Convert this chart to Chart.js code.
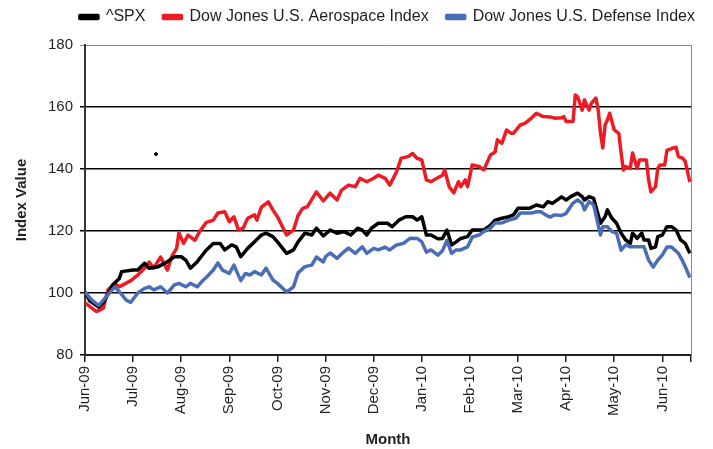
<!DOCTYPE html>
<html>
<head>
<meta charset="utf-8">
<script src="https://cdn.jsdelivr.net/npm/chart.js@4.4.1/dist/chart.umd.min.js"></script>
<style>
  html, body { margin: 0; padding: 0; background: #fff; }
</style>
</head>
<body>
<canvas id="indexChart" width="713" height="449"></canvas>
<script>
// x positions are trading-day numbers counted from 1 Jun 2009
const monthLabels = ['Jun-09', 'Jul-09', 'Aug-09', 'Sep-09', 'Oct-09', 'Nov-09', 'Dec-09',
                     'Jan-10', 'Feb-10', 'Mar-10', 'Apr-10', 'May-10', 'Jun-10'];
const monthTicks = [0, 21, 42, 63, 84, 105, 126, 147, 168, 189, 210, 231, 252, 264.5];

const spxDays = [0, 2, 6, 8, 11, 12, 15, 16, 21, 23, 26, 28, 32, 36, 39, 42, 44, 46, 49, 51,
  53, 56, 59, 61, 64, 66, 68, 71, 74, 77, 79, 82, 84, 88, 91, 93, 96, 99, 101, 104,
  107, 110, 113, 116, 119, 121, 123, 125, 128, 132, 134, 137, 140, 143, 145, 147, 149, 151, 154, 156,
  158, 160, 162, 164, 167, 169, 172, 174, 177, 179, 182, 185, 187, 189, 192, 194, 197, 200, 202, 204,
  208, 210, 212, 215, 217, 218, 220, 222, 223, 225, 227, 228, 230, 232, 234, 236, 238, 239, 241, 243,
  244, 246, 247, 249, 250, 252, 254, 256, 258, 260, 262, 264];
const spxValues = [100.4, 97.5, 95.5, 97, 101, 102.6, 104.7, 106.9, 107.4, 107.4, 109.6, 108, 108.5, 110.1, 111.7, 111.7, 110.6, 108, 110.1, 112,
  113.9, 116, 116, 113.9, 115.5, 114.9, 111.7, 114.4, 116.5, 118.7, 119.3, 118.2, 116.5, 112.8, 113.9, 116.5, 119.3, 118.7, 120.9, 118.4,
  120.3, 119.3, 119.8, 118.7, 120.9, 120.3, 118.7, 120.9, 122.5, 122.5, 121.4, 123.5, 124.6, 124.6, 123.5, 124.6, 118.7, 118.7, 117.5, 117.6,
  120.3, 115.5, 116.5, 117.6, 118.2, 120.3, 120.3, 120.3, 121.9, 123.5, 124.1, 124.6, 125.2, 127.3, 127.3, 127.3, 128.4, 127.8, 129.5, 128.9,
  131, 130, 131.1, 132.2, 131.1, 130, 131.1, 130.5, 127.8, 122.5, 124.6, 126.8, 124.1, 122.5, 119.3, 117.1, 116, 119.3, 117.6, 119.3,
  117.1, 117.1, 114.4, 114.9, 118.2, 118.7, 121.4, 121.4, 120.3, 117.1, 116, 112.8];

const aeroDays = [0, 5, 8, 10, 13, 15, 20, 23, 26, 28, 30, 33, 36, 38, 40, 41, 43, 45, 48, 50,
  53, 56, 58, 61, 63, 65, 67, 69, 71, 74, 75, 77, 80, 82, 84, 88, 91, 93, 95, 97,
  101, 104, 107, 110, 112, 115, 118, 120, 123, 126, 128, 131, 133, 136, 138, 141, 143, 145, 147, 149,
  151, 154, 156, 157, 159, 161, 163, 164, 166, 167, 169, 172, 174, 177, 179, 180, 182, 184, 186, 187,
  190, 192, 195, 197, 200, 203, 205, 208, 209, 210, 213, 214, 215, 217, 218, 220, 221, 223, 224, 225,
  226, 227, 228, 229, 231, 233, 234, 235, 236, 238, 239, 241, 242, 244, 245, 246, 247, 249, 250, 251,
  253, 254, 256, 258, 259, 261, 262, 264];
const aeroValues = [96.8, 94, 95.1, 101, 103, 102, 104, 105.8, 108, 110, 108, 111.6, 107.4, 112, 114.4, 119.4, 116, 118.7, 117, 119.8,
  122.8, 123.5, 125.8, 126.2, 123, 124.6, 120.3, 120.9, 124.1, 125.2, 123.5, 127.7, 129.4, 126.8, 124.6, 118.7, 120.3, 125, 127.3, 127.8,
  132.6, 129.7, 132.2, 130, 133.2, 134.8, 134.3, 137, 135.9, 137, 138, 137, 134.8, 139.1, 143.5, 144, 145, 143.4, 142.9, 136.5,
  135.9, 137.2, 138, 139.7, 134.2, 132.3, 135.9, 134.3, 136.5, 134.3, 141.3, 140.8, 139.7, 144.5, 145.5, 149.4, 148.3, 152.6, 151.5, 151.5,
  154.2, 154.7, 156.5, 158, 156.9, 156.8, 156.4, 156.5, 156.9, 155.3, 155.3, 163.9, 163.3, 159, 162.3, 159, 161.2, 162.9, 159, 151.6,
  146.8, 154.2, 155.8, 158, 152.6, 151.5, 145.2, 139.7, 140.8, 140.2, 145.2, 140.2, 142.9, 142.9, 142.9, 136.5, 132.6, 134.3, 140.2, 141.3,
  141.3, 146, 146.6, 147, 144, 143.4, 142.4, 135.8];

const defDays = [0, 3, 6, 8, 13, 15, 18, 20, 23, 26, 28, 30, 33, 36, 39, 41, 44, 46, 49, 51,
  53, 56, 58, 60, 63, 65, 68, 70, 72, 74, 77, 79, 82, 84, 88, 91, 93, 96, 99, 101,
  104, 105, 107, 110, 113, 115, 118, 121, 123, 126, 128, 131, 133, 136, 139, 142, 145, 147, 149, 151,
  154, 156, 158, 160, 162, 164, 167, 169, 172, 174, 177, 179, 182, 185, 188, 190, 192, 195, 197, 199,
  201, 203, 205, 208, 210, 213, 215, 217, 218, 220, 222, 223, 225, 226, 228, 230, 232, 234, 236, 238,
  240, 242, 244, 246, 248, 250, 252, 254, 256, 259, 261, 262, 264];
const defValues = [100.3, 97.7, 96, 97.7, 102, 100.4, 97.7, 97, 100, 101.5, 102, 101, 102, 100, 102.6, 103.1, 102, 103.1, 102, 103.7,
  105.1, 107.4, 109.7, 107.4, 106.3, 109, 104, 106.3, 105.8, 106.9, 105.8, 108, 104.2, 103.1, 100.3, 102, 106.5, 108.5, 109, 111.6,
  110, 111.7, 112.9, 111.2, 113.3, 114.5, 112.8, 114.9, 112.8, 114.4, 113.9, 114.8, 113.9, 115.5, 116, 117.7, 117.6, 116.5, 113.2, 113.9,
  112.2, 113.6, 117, 112.8, 113.9, 113.9, 114.9, 118, 118.7, 119.8, 120.9, 122.6, 122.6, 123.5, 124.1, 125.8, 125.8, 125.8, 126.2, 126.2,
  125.2, 124.5, 125.2, 125, 125.7, 129, 130, 128.9, 126.8, 129.5, 128.4, 125.2, 118.7, 121.4, 121.4, 119.8, 119.3, 113.8, 115.5, 114.9,
  114.9, 114.9, 114.9, 110.6, 108.4, 110.6, 112.3, 114.8, 114.8, 112.8, 110.1, 108.5, 105];

// the lone stray dot in the upper left of the plot
const strayDays = [31];
const strayValues = [144.8];

const TEXT = '#231f20';
Chart.defaults.font.family = "'Liberation Sans', Arial, sans-serif";
Chart.defaults.color = TEXT;

function toPoints(days, values) {
    return days.map((d, i) => ({ x: d, y: values[i] }));
}

const ctx = document.getElementById('indexChart');

new Chart(ctx, {
    type: 'line',
    data: {
        datasets: [
            { label: '^SPX', data: toPoints(spxDays, spxValues),
              borderColor: '#000000', backgroundColor: '#000000', order: 2 },
            { label: 'Dow Jones U.S. Aerospace Index', data: toPoints(aeroDays, aeroValues),
              borderColor: '#ed1c24', backgroundColor: '#ed1c24', order: 3 },
            { label: 'Dow Jones U.S. Defense Index', data: toPoints(defDays, defValues),
              borderColor: '#4a6db5', backgroundColor: '#4a6db5', order: 1 },
            { label: '', data: toPoints(strayDays, strayValues), showLine: false,
              pointRadius: 1.5, borderColor: '#000000', backgroundColor: '#000000', order: 0 }
        ]
    },
    options: {
        responsive: false,
        animation: false,
        layout: { padding: { top: -9, left: 0, right: 0, bottom: 0 } },
        elements: {
            line: { borderWidth: 3.5, tension: 0, borderJoinStyle: 'round' },
            point: { radius: 0 }
        },
        plugins: {
            legend: {
                position: 'top',
                align: 'end',
                labels: {
                    boxWidth: 18,
                    boxHeight: 3,
                    padding: 18,
                    color: TEXT,
                    font: { size: 16 },
                    filter: item => item.text !== '',
                    sort: (a, b) => a.datasetIndex - b.datasetIndex
                }
            },
            tooltip: { enabled: false }
        },
        scales: {
            x: {
                type: 'linear',
                min: 0,
                max: 264.5,
                afterBuildTicks: s => { s.ticks = monthTicks.map(v => ({ value: v })); },
                afterFit: s => { s.height = 94; },
                ticks: {
                    autoSkip: false,
                    minRotation: 90,
                    maxRotation: 90,
                    padding: 4,
                    font: { size: 15 },
                    callback: (v, i) => monthLabels[i] || ''
                },
                grid: { drawOnChartArea: false, tickLength: 7, color: TEXT, lineWidth: 1.5 },
                border: { color: TEXT, width: 2 },
                title: { display: true, text: 'Month', font: { size: 15, weight: 'bold' },
                         padding: { top: 0, bottom: 0 } }
            },
            // empty axes only used to keep room above and right of the plot
            xSpacer: {
                type: 'linear', position: 'top', display: true,
                grid: { display: false }, ticks: { display: false }, border: { display: false },
                afterFit: s => { s.height = 10; }
            },
            y: {
                min: 80,
                max: 180,
                afterFit: s => { s.width = 85; },
                ticks: { stepSize: 20, padding: 7, font: { size: 15 } },
                grid: {
                    color: c => (c.tick && c.tick.value === 180) ? '#8a8a8a' : '#000000',
                    lineWidth: c => (c.tick && c.tick.value === 180) ? 1 : 1.5,
                    tickLength: 5
                },
                border: { color: '#333333', width: 2 },
                title: { display: true, text: 'Index Value', font: { size: 15, weight: 'bold' },
                         padding: { top: 13, bottom: 0 } }
            },
            ySpacer: {
                type: 'linear', position: 'right', display: true,
                grid: { display: false }, ticks: { display: false },
                border: { display: true, color: '#8a8a8a', width: 1 },
                afterFit: s => { s.width = 16; }
            }
        }
    }
});
</script>
</body>
</html>
